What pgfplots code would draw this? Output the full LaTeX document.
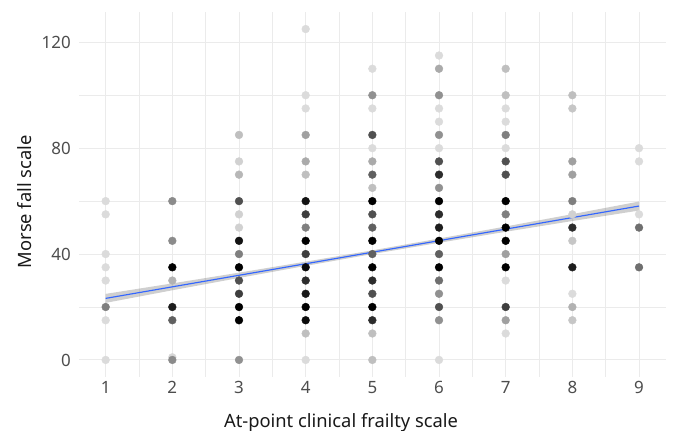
\documentclass[border=0pt]{standalone}
\usepackage{pgfplots}
\pgfplotsset{compat=1.18}
\usepackage{pgfplotstable}
\usepackage{fontspec}
\setmainfont{Noto Sans}
\definecolor{tickgray}{HTML}{4D4D4D}
\definecolor{gridgray}{HTML}{EBEBEB}
\definecolor{fitblue}{HTML}{3366FF}
\pgfplotstableread{
x y d
1 60 14
1 55 14
1 40 14
1 35 14
1 30 14
1 20 50
1 15 14
1 0 14
2 60 45
2 45 45
2 35 100
2 30 30
2 20 88
2 15 62
2 1 16
2 0 45
3 85 25
3 75 18
3 70 28
3 60 68
3 55 18
3 50 18
3 45 92
3 40 50
3 35 100
3 30 68
3 25 75
3 20 100
3 15 100
3 0 43
4 125 14
4 100 14
4 95 14
4 85 37
4 75 33
4 70 25
4 60 92
4 55 75
4 50 50
4 45 100
4 40 75
4 35 95
4 30 82
4 25 90
4 20 100
4 15 95
4 10 25
4 0 14
5 110 14
5 100 43
5 95 14
5 85 68
5 80 14
5 75 33
5 70 62
5 65 25
5 60 100
5 55 68
5 50 62
5 45 100
5 40 62
5 35 100
5 30 82
5 25 68
5 20 100
5 15 82
5 10 25
5 0 25
6 115 14
6 110 33
6 100 43
6 95 14
6 90 14
6 85 43
6 80 14
6 75 68
6 70 82
6 65 43
6 60 100
6 55 82
6 50 88
6 45 100
6 40 62
6 35 100
6 30 56
6 25 43
6 20 68
6 15 43
6 0 14
7 110 25
7 100 25
7 95 14
7 90 14
7 85 50
7 80 14
7 75 68
7 70 68
7 60 100
7 55 50
7 50 100
7 45 100
7 40 37
7 35 100
7 30 14
7 20 75
7 15 37
7 10 14
8 100 25
8 95 22
8 75 37
8 70 37
8 60 50
8 55 18
8 50 82
8 45 22
8 35 88
8 25 14
8 20 30
8 15 22
9 80 14
9 75 14
9 55 14
9 50 56
9 35 56
}\pts
\begin{document}
\begin{tikzpicture}
\useasboundingbox (-79bp,-54.5bp) rectangle (596bp,376.5bp);
\begin{axis}[
  at={(0,0)}, anchor=south west,
  scale only axis, width=586.7bp, height=364bp,
  xmin=0.6, xmax=9.4, ymin=-6.25, ymax=131.25,
  axis line style={draw=none}, tick style={draw=none},
  xtick={1,2,...,9}, ytick={0,40,80,120},
  minor xtick={1.5,2.5,...,8.5}, minor ytick={20,60,100},
  grid=both,
  major grid style={gridgray, line width=1bp},
  minor grid style={gridgray, line width=0.6bp},
  /pgf/number format/assume math mode=true,
  xticklabel style={font=\fontsize{17}{17}\selectfont, text=tickgray, anchor=base, inner sep=0pt, yshift=-16.8bp},
  yticklabel style={font=\fontsize{17}{17}\selectfont, text=tickgray, anchor=east, inner sep=0pt, xshift=-8bp},
  xlabel={At-point clinical frailty scale},
  ylabel={Morse fall scale},
  every axis x label/.style={at={(axis description cs:0.4466,-0.139)}, anchor=base, font=\fontsize{18.4}{18.4}\selectfont, text=black!90},
  every axis y label/.style={at={(axis description cs:-0.092,0.480)}, anchor=center, rotate=90, font=\fontsize{18.4}{18.4}\selectfont, text=black!90},
  clip=false,
]
\addplot[only marks, scatter, point meta=explicit, mark=*, mark size=3.9bp,
  colormap={bw}{color=(white) color=(black)}, point meta min=0, point meta max=100,
  scatter/use mapped color={draw=mapped color, fill=mapped color}]
  table[x=x, y=y, meta=d] {\pts};
\addplot[fill=gray, fill opacity=0.38, draw=none] coordinates {
  (1,24.96) (2,28.92) (3,32.98) (4,37.14) (5,41.40) (6,45.86) (7,50.42) (8,55.08) (9,59.84)
  (9,56.44) (8,52.48) (7,48.42) (6,44.26) (5,40.00) (4,35.54) (3,30.98) (2,26.32) (1,21.56)
} -- cycle;
\addplot[fitblue, line width=1.15bp] coordinates {
  (1,23.26) (2,27.62) (3,31.98) (4,36.34) (5,40.70) (6,45.06) (7,49.42) (8,53.78) (9,58.14)
};
\end{axis}
\end{tikzpicture}
\end{document}
